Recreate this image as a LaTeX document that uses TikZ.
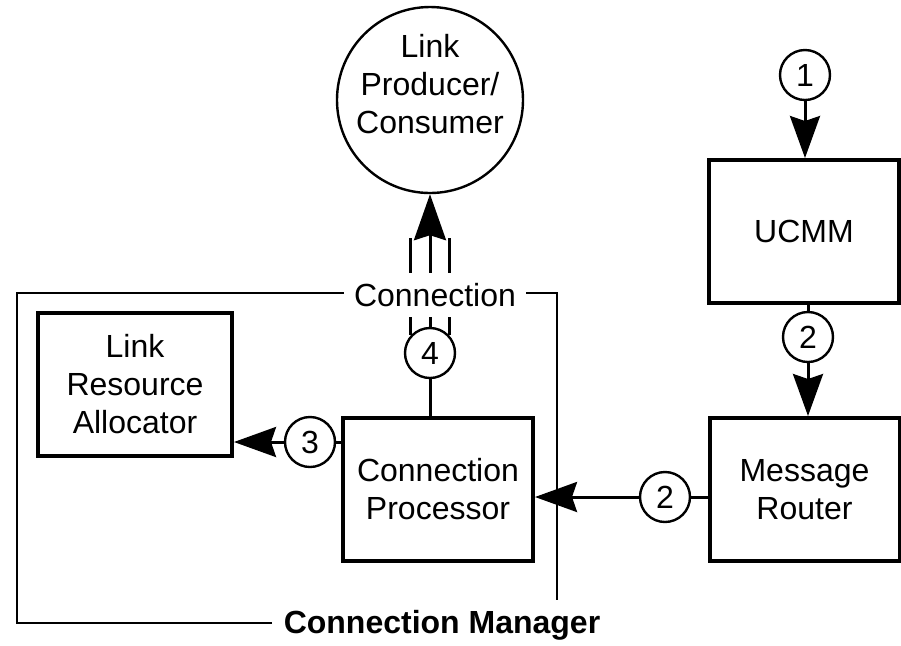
\documentclass[tikz,border=0pt]{standalone}
\usepackage{fontspec}
\setmainfont{Liberation Sans}
\usetikzlibrary{arrows.meta}
\tikzset{numcirc/.style={draw,circle,line width=1.2pt,minimum size=25pt,inner sep=0pt,align=center}}
\tikzset{blockbox/.style={draw,line width=2pt,minimum width=95pt,minimum height=71.5pt,inner sep=0pt,align=center}}
\tikzset{arr/.style={-{Stealth[length=21pt,width=15pt,inset=2.5pt]}}}

\begin{document}
\begin{tikzpicture}[x=0.5pt,y=-0.5pt,line width=1.5pt, every node/.style={font=\fontsize{16}{19}\selectfont}]
        \useasboundingbox (0,0) rectangle (901,645);
        %Frame (Connection Manager)
        \draw[line width=1.4pt] (272,623) -| (17,293) -| (557,607);
        %Blocks
        \node[blockbox,minimum width=97pt] (lra) at (135,384.5) {Link\\Resource\\Allocator};
        \node[blockbox] (cp) at (438,489.5) {Connection\\Processor};
        \node[blockbox] (mr) at (804.5,489.5) {Message\\Router};
        \node[blockbox] (ucmm) at (804,231.5) {UCMM};
        \node[draw,circle,line width=1.2pt,minimum size=93pt,inner sep=0pt,
              label={[align=center,yshift=8pt]center:Link\\Producer/\\Consumer}] (lpc) at (430,100) {};
        %Steps
        \node[numcirc] (c1) at (805,75) {1};
        \node[numcirc] (c2a) at (808,337) {2};
        \node[numcirc] (c2b) at (665,497) {2};
        \node[numcirc] (c3) at (310,442) {3};
        \node[numcirc] (c4) at (430,353) {4};
        %Arrows
        \draw[arr] (c1) -- (c1 |- ucmm.north);
        \draw (c2a) -- (c2a |- ucmm.south);
        \draw[arr] (c2a) -- (c2a |- mr.north);
        \draw (c2b) -- (c2b -| mr.west);
        \draw[arr] (c2b) -- (c2b -| cp.east);
        \draw (c3) -- (c3 -| cp.west);
        \draw[arr] (c3) -- (c3 -| lra.east);
        \draw (c4) -- (c4 |- cp.north);
        %Connection (3 lines)
        \coordinate (abase) at (430,238);
        \draw (c4.137) -- (c4.137 |- abase);
        \draw (c4.43) -- (c4.43 |- abase);
        \draw[-{Stealth[length=23pt,width=16pt,inset=2.5pt]}] (c4) -- (lpc);
        %Labels
        \node[fill=white,inner sep=5pt] (conn) at (435,295) {Connection};
        \node[fill=white,inner sep=5pt,font=\fontsize{16}{19}\selectfont\bfseries] (cman) at (442,625) {Connection Manager};
\end{tikzpicture}
\end{document}
